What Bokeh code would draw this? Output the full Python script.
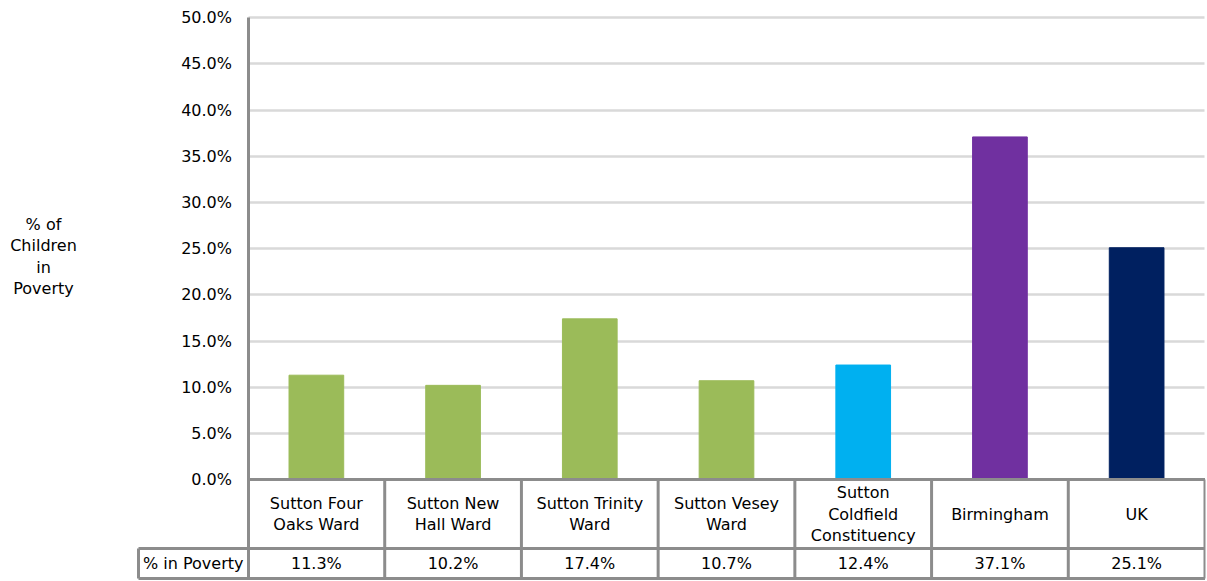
from bokeh.plotting import figure
from bokeh.models import LinearAxis, Grid, FixedTicker, PrintfTickFormatter, Range1d, ColumnDataSource
from bokeh.core.properties import value
from bokeh.embed import file_html
from bokeh.resources import INLINE

# ---- data ----
categories = ["Sutton Four\nOaks Ward", "Sutton New\nHall Ward", "Sutton Trinity\nWard",
              "Sutton Vesey\nWard", "Sutton\nColdfield\nConstituency", "Birmingham", "UK"]
poverty = [11.3, 10.2, 17.4, 10.7, 12.4, 37.1, 25.1]
bar_colors = ["#9BBB59", "#9BBB59", "#9BBB59", "#9BBB59", "#00B0F0", "#7030A0", "#002060"]
y_ticks = [0, 5, 10, 15, 20, 25, 30, 35, 40, 45, 50]
row_label = "% in Poverty"
axis_title = "% of\nChildren\nin\nPoverty"

FONT = "DejaVu Sans"
FS = "16px"
GRAY = "#8c8c8c"

# table geometry (data units)
n = len(categories)
row1_bottom = -7.47
row2_bottom = -10.71
label_left = -0.801

p = figure(width=1207, height=581, output_backend="svg", toolbar_location=None,
           x_range=Range1d(-1.8104, n + 0.0037), y_range=Range1d(-11.04, 50.79),
           x_axis_location=None, y_axis_location=None, min_border=0,
           min_border_top=10, min_border_right=2)
p.outline_line_color = None
p.background_fill_color = "white"
p.border_fill_color = "white"
p.center = []

yaxis = LinearAxis(fixed_location=0, ticker=FixedTicker(ticks=y_ticks),
                   formatter=PrintfTickFormatter(format="%.1f%%"),
                   bounds=(row2_bottom, 50))
yaxis.axis_line_color = GRAY
yaxis.axis_line_width = 3
yaxis.major_tick_out = 0
yaxis.major_tick_in = 0
yaxis.minor_tick_out = 0
yaxis.minor_tick_in = 0
yaxis.major_label_standoff = 16
yaxis.major_label_text_font = FONT
yaxis.major_label_text_font_size = FS
yaxis.major_label_text_color = "#000000"
p.add_layout(yaxis, "left")

grid = Grid(dimension=1, ticker=yaxis.ticker, grid_line_color="#d9d9d9", grid_line_width=2.5)
if hasattr(grid, "cross_bounds"):
    grid.cross_bounds = (0, n)
p.add_layout(grid)
if not hasattr(grid, "cross_bounds"):
    p.quad(left=[-1.8104], right=[-0.02], bottom=[-0.3], top=[50.79],
           fill_color="white", line_color=None)

centers = [i + 0.5 for i in range(n)]
src = ColumnDataSource(dict(x=centers, top=poverty, color=bar_colors,
                            cat=categories, val=[f"{v:.1f}%" for v in poverty]))
p.vbar(x="x", top="top", width=0.4, color="color", source=src)

# table borders
xs0 = [0, label_left, label_left] + list(range(1, n + 1)) + [label_left]
ys0 = [0, row1_bottom, row2_bottom] + [0] * n + [row1_bottom]
xs1 = [n, n, n] + list(range(1, n + 1)) + [label_left]
ys1 = [0, row1_bottom, row2_bottom] + [row2_bottom] * n + [row2_bottom]
p.segment(x0=xs0, y0=ys0, x1=xs1, y1=ys1, line_color=GRAY, line_width=3)

# table text
p.text(x="x", y=row1_bottom / 2, text="cat", source=src, text_align="center",
       text_baseline="middle", text_font=value(FONT), text_font_size=FS,
       text_line_height=1.12, text_color="#000000")
p.text(x="x", y=(row1_bottom + row2_bottom) / 2, text="val", source=src, text_align="center",
       text_baseline="middle", text_font=value(FONT), text_font_size=FS, text_color="#000000")
p.text(x=[label_left / 2], y=[(row1_bottom + row2_bottom) / 2], text=[row_label],
       text_align="center", text_baseline="middle", text_font=value(FONT),
       text_font_size=FS, text_color="#000000")

# axis title
p.text(x=[-1.496], y=[24.15], text=[axis_title], text_align="center", text_baseline="middle",
       text_font=value(FONT), text_font_size=FS, text_line_height=1.12, text_color="#000000")

open("out.html", "w").write(file_html(p, INLINE))
